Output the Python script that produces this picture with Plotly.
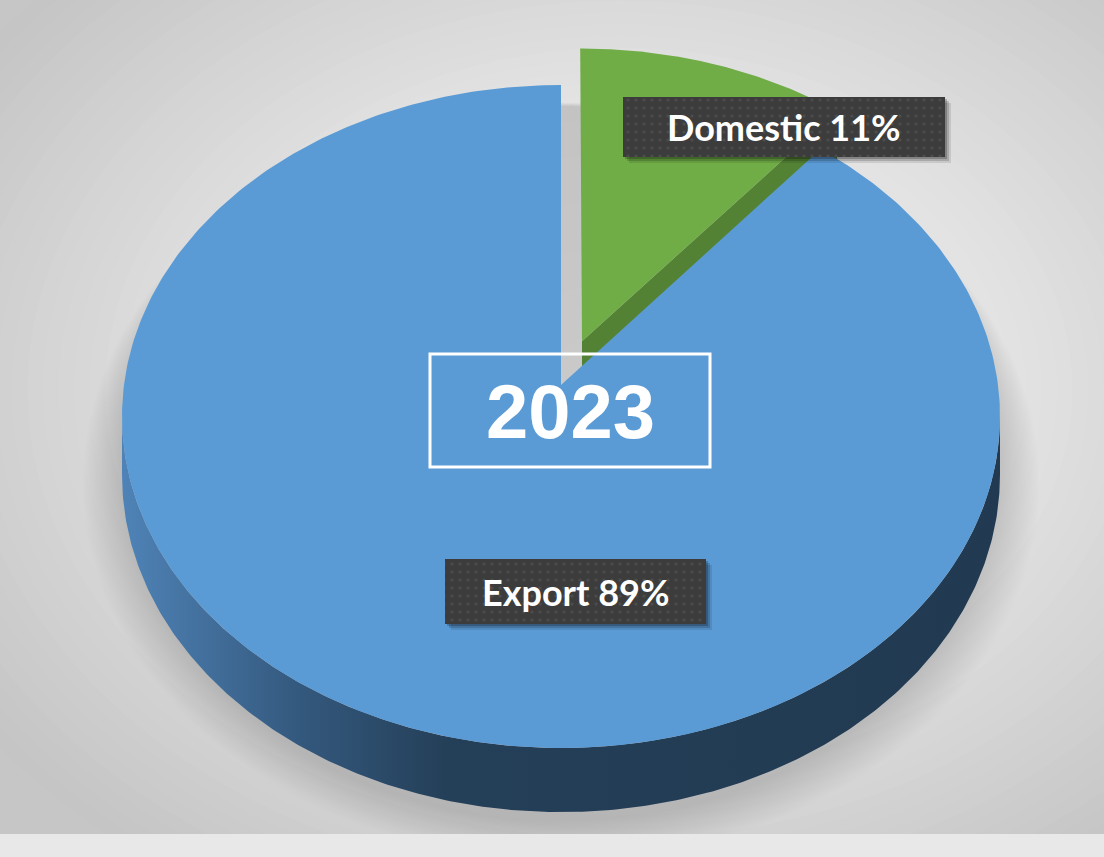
import numpy as np
import plotly.graph_objects as go

# ---------------- data ----------------
categories = ["Domestic", "Export"]
values = [11, 89]
year_label = "2023"

# ---------------- geometry / style ----------------
W, H = 1104, 857
CX, CY = 561.0, 385.0          # projected pie centre (px)
RX, RY = 437.0, 328.5          # top-face radii before perspective
PERSP = 0.095                  # perspective strength
DEPTH = 58.0                   # pie thickness (px)
EXPLODE = {"Domestic": 0.1437, "Export": 0.0}
TOP_COLOR = {"Domestic": "#70AD47", "Export": "#5B9BD5"}
SIDE_COLOR = {"Domestic": "#548235", "Export": "#2B4A69"}
SIDE_SCALE = {"Export": [[0, "#4f83b7"], [0.2, "#34597e"], [0.37, "#243f58"], [1, "#213a51"]]}
LABEL_BOX = {"Domestic": (623, 97, 945, 157), "Export": (445, 559, 706, 624)}
YEAR_BOX = (430, 354, 710, 467)
LABEL_FONT = "Lato"
YEAR_FONT = "Liberation Sans"


def proj(u, v, z=0.0):
    s = 1.0 + PERSP * v
    return CX + RX * u / s, CY - RY * v / s + DEPTH * z / s


def rim(theta_deg, du, dv, z=0.0):
    t = np.radians(theta_deg)
    return proj(np.sin(t) + du, np.cos(t) + dv, z)


fig = go.Figure()
shapes = []

# ---- background: stepped radial gradient ----
def bg_color(r):
    pts = [(0.0, 234), (0.5, 227), (1.0, 196)]
    for (r0, c0), (r1, c1) in zip(pts[:-1], pts[1:]):
        if r <= r1:
            c = c0 + (c1 - c0) * (r - r0) / (r1 - r0)
            break
    else:
        c = pts[-1][1]
    c = int(round(c))
    return f"rgb({c},{c},{c})"

BGX, BGY, BRX, BRY = 620, 390, 780, 590
N = 50
for k in range(N):
    r = 1.0 - k / N
    shapes.append(dict(type="circle", xref="x", yref="y", layer="below",
                       x0=BGX - BRX * r, x1=BGX + BRX * r, y0=BGY - BRY * r, y1=BGY + BRY * r,
                       fillcolor=bg_color(r - 0.5 / N), line=dict(width=0)))

# ---- soft shadow under the pie ----
for e in np.linspace(38, 0, 32):
    shapes.append(dict(type="circle", xref="x", yref="y", layer="below",
                       x0=561 - 441 - e, x1=561 + 441 + e,
                       y0=102 + e * 0.1, y1=822 + e,
                       fillcolor="rgba(0,0,0,0.0045)", line=dict(width=0)))

# ---- pie slices ----
total = float(sum(values))
slices = []
a = 0.0
for cat, val in zip(categories, values):
    span = 360.0 * val / total
    slices.append((cat, a, a + span))
    a += span

theta_r = np.degrees(np.arccos(-PERSP))
theta_l = 360.0 - theta_r

# far slices first
order = sorted(slices, key=lambda s: -np.cos(np.radians((s[1] + s[2]) / 2)))
for cat, a0, a1 in order:
    mid = np.radians((a0 + a1) / 2)
    ex = EXPLODE.get(cat, 0.0)
    du, dv = ex * np.sin(mid), ex * np.cos(mid)

    # outer wall
    lo, hi = max(a0, theta_r), min(a1, theta_l)
    if lo < hi:
        ts = np.linspace(lo, hi, 300)
        tx, ty = rim(ts, du, dv, 0)
        bx, by = rim(ts[::-1], du, dv, 1)
        xs = np.concatenate([tx, bx, tx[:1]])
        ys = np.concatenate([ty, by, ty[:1]])
        kw = {}
        if cat in SIDE_SCALE:
            kw["fillgradient"] = dict(type="horizontal", colorscale=SIDE_SCALE[cat],
                                      start=float(xs.min()), stop=float(xs.max()))
        fig.add_trace(go.Scatter(x=xs, y=ys, mode="lines", fill="toself",
                                 fillcolor=SIDE_COLOR[cat], line=dict(width=0),
                                 hoverinfo="skip", showlegend=False, **kw))

    # radial cut faces
    for edge, n_v in ((a0, np.sin(np.radians(a0))), (a1, -np.sin(np.radians(a1)))):
        if n_v < -0.05:
            ax0, ay0 = proj(du, dv, 0)
            ax1, ay1 = proj(du, dv, 1)
            rx0, ry0 = rim(edge, du, dv, 0)
            rx1, ry1 = rim(edge, du, dv, 1)
            fig.add_trace(go.Scatter(x=[ax0, rx0, rx1, ax1, ax0], y=[ay0, ry0, ry1, ay1, ay0],
                                     mode="lines", fill="toself", fillcolor=SIDE_COLOR[cat],
                                     line=dict(width=0), hoverinfo="skip", showlegend=False))

    # top face
    ts = np.linspace(a0, a1, 400)
    tx, ty = rim(ts, du, dv, 0)
    ax0, ay0 = proj(du, dv, 0)
    fig.add_trace(go.Scatter(x=np.concatenate([[ax0], tx, [ax0]]),
                             y=np.concatenate([[ay0], ty, [ay0]]),
                             mode="lines", fill="toself", fillcolor=TOP_COLOR[cat],
                             line=dict(width=0), name=cat, hoverinfo="name", showlegend=False))

# ---- data labels ----
annotations = []
for cat, val in zip(categories, values):
    x0, y0, x1, y1 = LABEL_BOX[cat]
    for off, alpha in ((6, 0.10), (4, 0.16), (2, 0.22)):
        fig.add_trace(go.Scatter(x=[x0 + off, x1 + off, x1 + off, x0 + off, x0 + off],
                                 y=[y0 + off, y0 + off, y1 + off, y1 + off, y0 + off],
                                 mode="lines", fill="toself", fillcolor=f"rgba(0,0,0,{alpha})",
                                 line=dict(width=0), hoverinfo="skip", showlegend=False))
    fig.add_trace(go.Scatter(x=[x0, x1, x1, x0, x0], y=[y0, y0, y1, y1, y0],
                             mode="lines", fill="toself", fillcolor="#3c3c3c",
                             fillpattern=dict(shape=".", bgcolor="#3c3c3c", fgcolor="#5c5c5c",
                                              size=8, solidity=0.12),
                             line=dict(width=0), hoverinfo="skip", showlegend=False))
    annotations.append(dict(x=(x0 + x1) / 2, y=(y0 + y1) / 2, xref="x", yref="y",
                            text=f"{cat} {val}%", showarrow=False,
                            font=dict(family=LABEL_FONT, size=36, color="white", weight="bold")))

# ---- year box ----
x0, y0, x1, y1 = YEAR_BOX
shapes.append(dict(type="rect", xref="x", yref="y", layer="above",
                   x0=x0, x1=x1, y0=y0, y1=y1, line=dict(color="white", width=3),
                   fillcolor="rgba(0,0,0,0)"))
annotations.append(dict(x=(x0 + x1) / 2, y=(y0 + y1) / 2 + 1, xref="x", yref="y",
                        text=year_label, showarrow=False,
                        font=dict(family=YEAR_FONT, size=76, color="white", weight="bold")))

# bottom light strip
shapes.append(dict(type="rect", xref="x", yref="y", layer="above",
                   x0=0, x1=W, y0=834, y1=H, fillcolor="#e8e8e8", line=dict(width=0)))

fig.update_layout(
    width=W, height=H, margin=dict(l=0, r=0, t=0, b=0),
    paper_bgcolor="#c6c6c6", plot_bgcolor="rgba(0,0,0,0)",
    xaxis=dict(range=[0, W], visible=False, fixedrange=True),
    yaxis=dict(range=[H, 0], visible=False, fixedrange=True),
    shapes=shapes, annotations=annotations, showlegend=False,
)

fig.write_html("out.html",
               config={"displayModeBar": False},
               post_script="document.body.style.margin='0px';"
                           "document.body.style.overflow='hidden';")
